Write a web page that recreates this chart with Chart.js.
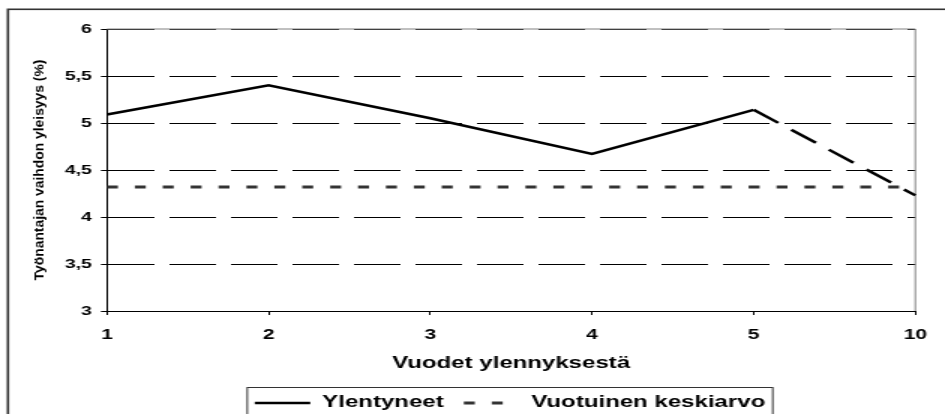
<!DOCTYPE html>
<html>
<head>
<meta charset="utf-8">
<script src="https://cdn.jsdelivr.net/npm/chart.js@4.4.1/dist/chart.umd.min.js"></script>
<style>
  html, body { margin: 0; padding: 0; background: #fff; overflow: hidden; }
  /* the original picture is stretched sideways, so draw narrow and stretch */
  #wrap { width: 630px; height: 440px; transform: scaleX(1.5); transform-origin: 0 0; }
</style>
</head>
<body>
<div id="wrap"><canvas id="myChart" width="630" height="440"></canvas></div>
<script>
var years = ['1', '2', '3', '4', '5', '10'];
var ylentyneet = [5.09, 5.40, 5.05, 4.67, 5.14, 4.23];
var keskiarvo = [4.32, 4.32, 4.32, 4.32, 4.32, 4.32];
var yTickLabels = ['3', '3,5', '4', '4,5', '5', '5,5', '6'];
var yTitle = 'Työnantajan vaihdon yleisyys (%)';
var xTitle = 'Vuodet ylennyksestä';

var fam = '"Liberation Sans", Arial, sans-serif';
Chart.defaults.font.family = fam;

var frame = {
  id: 'frame',
  afterLayout: function (chart) {
    // legend sits a bit right of centre
    chart.legend.left += 33;
    chart.legend.right += 33;
  },
  beforeDatasetsDraw: function (chart) {
    var c = chart.ctx, a = chart.chartArea;
    c.save();
    c.strokeStyle = '#808080';
    c.lineWidth = 1;
    c.beginPath();
    c.moveTo(a.left, a.top);
    c.lineTo(a.right, a.top);
    c.lineTo(a.right, a.bottom);
    c.stroke();
    c.restore();
  },
  afterDraw: function (chart) {
    var c = chart.ctx, a = chart.chartArea, lg = chart.legend;
    var p = lg.options.labels.padding;
    c.save();
    // outer border
    c.strokeStyle = '#333';
    c.lineWidth = 1.6;
    c.strokeRect(5.3, 9.3, chart.width, chart.height);
    // legend box
    var mid = (lg.left + lg.right) / 2;
    var half = (lg.lineWidths[0] - p) / 2 + 5;
    var textY = lg.top + p + 8;
    c.lineWidth = 1;
    c.strokeRect(mid - half, textY - 15.5, half * 2, 60);
    // y title, squeezed like in the original
    c.fillStyle = '#000';
    c.font = 'bold 9px ' + fam;
    c.textAlign = 'center';
    c.textBaseline = 'middle';
    c.translate(26.7, (a.top + a.bottom) / 2);
    c.rotate(-Math.PI / 2);
    c.scale(1.54, 1);
    c.fillText(yTitle, 0, 0);
    c.restore();
  }
};

var ctx = document.getElementById('myChart').getContext('2d');
var myChart = new Chart(ctx, {
  type: 'line',
  data: {
    labels: years,
    datasets: [{
      label: 'Ylentyneet',
      data: ylentyneet,
      borderColor: '#000',
      borderWidth: 2.5,
      pointRadius: 0,
      segment: {
        borderDash: function (s) { return s.p0DataIndex === 4 ? [21, 11] : undefined; }
      }
    }, {
      label: 'Vuotuinen keskiarvo',
      data: keskiarvo,
      borderColor: '#333',
      borderWidth: 3,
      borderDash: [7.3, 11.3],
      pointRadius: 0
    }]
  },
  options: {
    responsive: false,
    animation: false,
    devicePixelRatio: 1,
    layout: { padding: { top: 29, right: 16, bottom: 19, left: 0 } },
    scales: {
      x: {
        offset: false,
        grid: { drawOnChartArea: false, color: '#000', tickLength: 4 },
        border: { color: '#000', width: 1 },
        ticks: {
          color: '#000', padding: 12, maxRotation: 0, autoSkip: false,
          font: { size: 14, weight: 'bold' }
        },
        title: {
          display: true, text: xTitle, color: '#000',
          font: { size: 16, weight: 'bold' },
          padding: { top: 0, bottom: 8.4 }
        },
        afterFit: function (s) { s.height = 70.5; }
      },
      y: {
        min: 3,
        max: 6,
        ticks: {
          stepSize: 0.5, color: '#000', padding: 6,
          font: { size: 13, weight: 'bold' },
          callback: function (v, i) { return yTickLabels[i]; }
        },
        grid: { color: '#000', lineWidth: 1, tickLength: 4, tickBorderDash: [] },
        border: { color: '#000', width: 1, dash: [31, 10] },
        afterFit: function (s) { s.width = 71.3; }
      }
    },
    plugins: {
      tooltip: { enabled: false },
      legend: {
        position: 'bottom',
        labels: {
          color: '#000',
          font: { size: 16, weight: 'bold' },
          usePointStyle: true,
          pointStyle: 'line',
          pointStyleWidth: 37,
          padding: 13.5,
          generateLabels: function (chart) {
            return chart.data.datasets.map(function (d, i) {
              return {
                text: d.label,
                datasetIndex: i,
                fillStyle: d.borderColor,
                strokeStyle: d.borderColor,
                lineWidth: d.borderWidth,
                lineDash: d.borderDash || [],
                pointStyle: 'line',
                fontColor: '#000',
                hidden: false
              };
            });
          }
        }
      }
    }
  },
  plugins: [frame]
});
</script>
</body>
</html>
